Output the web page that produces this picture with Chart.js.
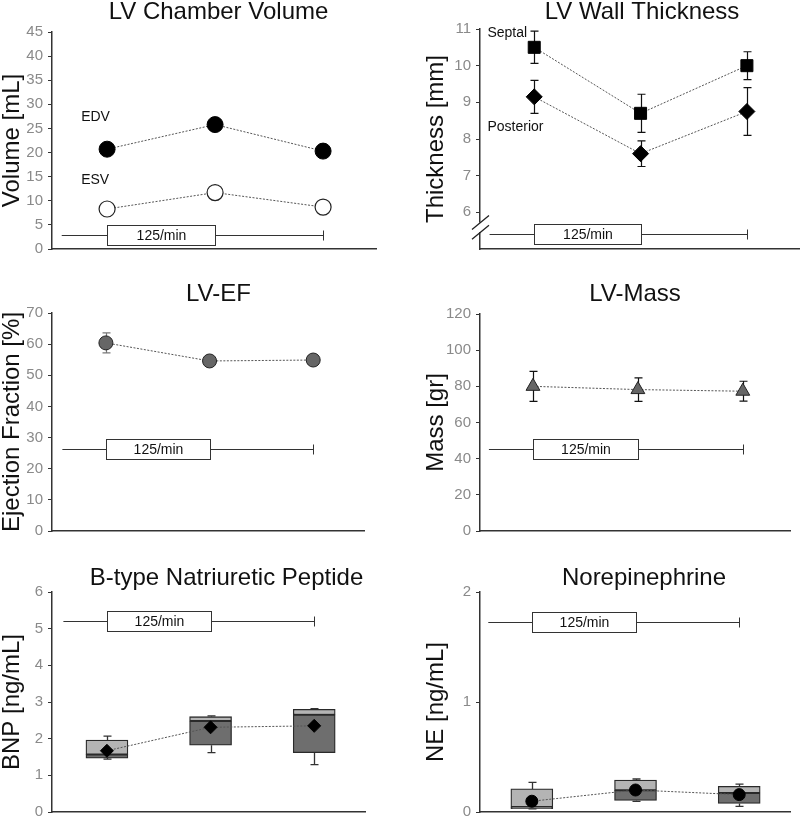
<!DOCTYPE html>
<html>
<head>
<meta charset="utf-8">
<script src="https://cdn.jsdelivr.net/npm/chart.js@4.4.1/dist/chart.umd.min.js"></script>
<style>
  body { margin: 0; background: #fff; }
  #wrap { position: relative; width: 800px; height: 822px; overflow: hidden; }
  #wrap canvas { position: absolute; }
</style>
</head>
<body>
<div id="wrap">
  <canvas id="c1" width="437" height="263" style="left:0px;top:0px"></canvas>
  <canvas id="c2" width="484" height="263" style="left:400px;top:0px"></canvas>
  <canvas id="c3" width="437" height="263" style="left:0px;top:282px"></canvas>
  <canvas id="c4" width="470" height="263" style="left:400px;top:282px"></canvas>
  <canvas id="c5" width="453" height="260" style="left:0px;top:566px"></canvas>
  <canvas id="c6" width="488" height="260" style="left:400px;top:566px"></canvas>
</div>
<script>
// time points (baseline, pacing, recovery)
const timepoints = [1, 2, 3];

// LV chamber volume [mL]
const edv = [20.7, 25.8, 20.3];
const esv = [8.3, 11.7, 8.7];

// LV wall thickness [mm]
const septal = [10.5, 8.7, 10.0];
const septalErr = [0.44, 0.52, 0.38];
const posterior = [9.15, 7.6, 8.75];
const posteriorErr = [0.45, 0.35, 0.65];

// LV-EF [%]
const ef = [60.4, 54.6, 54.9];
const efErr = [3.2, 1.0, 1.0];

// LV mass [gr]
const mass = [80.0, 78.2, 77.3];
const massErr = [8.3, 6.5, 5.5];

// BNP [ng/mL] box plots
const bnpMin = [1.44, 1.62, 1.29];
const bnpQ1 = [1.47, 1.82, 1.62];
const bnpMedian = [1.57, 2.48, 2.65];
const bnpQ3 = [1.96, 2.60, 2.80];
const bnpMax = [2.07, 2.62, 2.82];
const bnpMean = [1.67, 2.31, 2.35];

// NE [ng/mL] box plots
const neMin = [0.028, 0.096, 0.051];
const neQ1 = [0.03, 0.105, 0.078];
const neMedian = [0.045, 0.197, 0.173];
const neQ3 = [0.21, 0.29, 0.233];
const neMax = [0.27, 0.30, 0.253];
const neMean = [0.098, 0.20, 0.158];

// pacing period marker
const rateLabel = '125/min';
const rateStart = 0.58;
const rateBox = [1, 2];
const rateEnd = 3;

Chart.defaults.font.family = '"Liberation Sans", Arial, Helvetica, sans-serif';
Chart.defaults.animation = false;

const FONT = '"Liberation Sans", Arial, Helvetica, sans-serif';

function pts(vals) {
    return timepoints.map((x, i) => ({ x: x, y: vals[i] }));
}

function ranges(lo, hi) {
    return timepoints.map((x, i) => ({ x: x, y: [lo[i], hi[i]] }));
}

// extra drawing: error bars, whiskers, rate marker, text labels, axis break
function extrasPlugin(ex) {
    return {
        id: 'extras',
        beforeDatasetsDraw(chart) {
            const ctx = chart.ctx;
            const xs = chart.scales.x;
            const ys = chart.scales.y;
            ctx.save();

            (ex.errors || []).forEach(eb => {
                ctx.strokeStyle = eb.color;
                ctx.lineWidth = 1.2;
                eb.values.forEach((v, i) => {
                    const px = Math.round(xs.getPixelForValue(timepoints[i])) + 0.5;
                    const top = ys.getPixelForValue(v + eb.err[i]);
                    const bot = ys.getPixelForValue(v - eb.err[i]);
                    ctx.beginPath();
                    ctx.moveTo(px, top); ctx.lineTo(px, bot);
                    ctx.moveTo(px - 4, top); ctx.lineTo(px + 4, top);
                    ctx.moveTo(px - 4, bot); ctx.lineTo(px + 4, bot);
                    ctx.stroke();
                });
            });

            if (ex.whiskers) {
                const w = ex.whiskers;
                ctx.strokeStyle = '#333';
                ctx.lineWidth = 1.3;
                timepoints.forEach((x, i) => {
                    const px = Math.round(xs.getPixelForValue(x)) + 0.5;
                    const pMax = ys.getPixelForValue(w.max[i]);
                    const pMin = ys.getPixelForValue(w.min[i]);
                    ctx.beginPath();
                    ctx.moveTo(px, ys.getPixelForValue(w.q3[i])); ctx.lineTo(px, pMax);
                    ctx.moveTo(px - 4, pMax); ctx.lineTo(px + 4, pMax);
                    ctx.moveTo(px, ys.getPixelForValue(w.q1[i])); ctx.lineTo(px, pMin);
                    ctx.moveTo(px - 4, pMin); ctx.lineTo(px + 4, pMin);
                    ctx.stroke();
                });
            }

            if (ex.rateY !== undefined) {
                const y = Math.round(ys.getPixelForValue(ex.rateY)) + 0.5;
                const x0 = xs.getPixelForValue(rateStart);
                const xe = Math.round(xs.getPixelForValue(rateEnd)) + 0.5;
                const b0 = Math.round(xs.getPixelForValue(rateBox[0])) + 0.5;
                const b1 = Math.round(xs.getPixelForValue(rateBox[1])) + 0.5;
                ctx.strokeStyle = '#333';
                ctx.lineWidth = 1;
                ctx.beginPath();
                ctx.moveTo(x0, y); ctx.lineTo(xe, y);
                ctx.moveTo(xe, y - 5); ctx.lineTo(xe, y + 5);
                ctx.stroke();
                ctx.fillStyle = '#fff';
                ctx.fillRect(b0, y - 10, b1 - b0, 20);
                ctx.strokeRect(b0, y - 10, b1 - b0, 20);
                ctx.fillStyle = '#111';
                ctx.font = '14px ' + FONT;
                ctx.textAlign = 'center';
                ctx.textBaseline = 'middle';
                ctx.fillText(rateLabel, (b0 + b1) / 2, y + 1);
            }
            ctx.restore();
        },
        afterDraw(chart) {
            const ctx = chart.ctx;
            const xs = chart.scales.x;
            const ys = chart.scales.y;
            ctx.save();
            (ex.labels || []).forEach(l => {
                ctx.fillStyle = '#111';
                ctx.font = '14px ' + FONT;
                ctx.textAlign = 'left';
                ctx.textBaseline = 'middle';
                ctx.fillText(l.text, xs.getPixelForValue(l.x), ys.getPixelForValue(l.y));
            });
            if (ex.breakAt) {
                const ax = chart.chartArea.left;
                const p1 = ys.getPixelForValue(ex.breakAt[0]);
                const p2 = ys.getPixelForValue(ex.breakAt[1]);
                ctx.fillStyle = '#fff';
                ctx.fillRect(ax - 2, p1, 4, p2 - p1);
                ctx.strokeStyle = '#222';
                ctx.lineWidth = 1.3;
                ctx.beginPath();
                [p1, p2].forEach(p => {
                    ctx.moveTo(ax - 8, p + 7);
                    ctx.lineTo(ax + 9, p - 7);
                });
                ctx.stroke();
            }
            ctx.restore();
        }
    };
}

function makePanel(id, p) {
    return new Chart(document.getElementById(id), {
        type: p.type || 'line',
        data: { datasets: p.datasets },
        options: {
            responsive: false,
            layout: { padding: 0 },
            plugins: {
                legend: { display: false },
                tooltip: { enabled: false },
                title: {
                    display: true,
                    text: p.title,
                    color: '#111',
                    fullSize: true,
                    font: { size: 24, weight: 'normal', lineHeight: 1 },
                    padding: { top: 0, bottom: p.padB - 1 }
                }
            },
            scales: {
                x: {
                    type: 'linear',
                    min: p.xMin,
                    max: p.xMax,
                    offset: false,
                    grid: { display: false },
                    ticks: { display: false },
                    border: { display: true, color: '#333', width: 1.5 },
                    afterFit: s => { s.height = 10; }
                },
                y: {
                    type: 'linear',
                    position: 'left',
                    min: p.yMin,
                    max: p.yMax,
                    ticks: {
                        stepSize: p.step,
                        autoSkip: false,
                        color: '#8a8a8a',
                        font: { size: 15 },
                        padding: 5,
                        callback: p.tickCb || (v => v)
                    },
                    grid: {
                        display: true,
                        drawOnChartArea: false,
                        drawTicks: true,
                        tickLength: 4,
                        tickColor: '#333',
                        color: '#333'
                    },
                    border: { display: true, color: '#333', width: 1.5 },
                    title: {
                        display: true,
                        text: p.yTitle,
                        color: '#111',
                        font: { size: 24, lineHeight: 1 },
                        padding: { top: p.axisPad, bottom: 0 }
                    },
                    afterFit: s => { s.width = p.ya; }
                },
                y2: {
                    type: 'linear',
                    position: 'right',
                    display: true,
                    grid: { display: false },
                    border: { display: false },
                    ticks: { display: false },
                    afterFit: s => { s.width = p.rw; }
                }
            }
        },
        plugins: [extrasPlugin(p.extras || {})]
    });
}

const dotted = { borderColor: '#555', borderWidth: 1, borderDash: [2, 1.5], showLine: true };

// LV Chamber Volume
makePanel('c1', {
    title: 'LV Chamber Volume', yTitle: 'Volume [mL]',
    xMin: 0.49, xMax: 3.49, yMin: 0, yMax: 45, step: 5,
    ya: 52, rw: 61, padB: 9, axisPad: 0,
    datasets: [
        Object.assign({ data: pts(edv), pointRadius: 8, pointBackgroundColor: '#000', pointBorderColor: '#000', pointBorderWidth: 1 }, dotted),
        Object.assign({ data: pts(esv), pointRadius: 8, pointBackgroundColor: '#fff', pointBorderColor: '#222', pointBorderWidth: 1.2 }, dotted)
    ],
    extras: {
        rateY: 3.0,
        labels: [{ text: 'EDV', x: 0.76, y: 27.4 }, { text: 'ESV', x: 0.76, y: 14.3 }]
    }
});

// LV Wall Thickness
makePanel('c2', {
    title: 'LV Wall Thickness', yTitle: 'Thickness [mm]',
    xMin: 0.49, xMax: 3.49, yMin: 5, yMax: 11, step: 1,
    tickCb: v => (v === 5 ? null : v),
    ya: 80, rw: 85, padB: 6, axisPad: 24,
    datasets: [
        Object.assign({ data: pts(septal), pointStyle: 'rect', pointRadius: 8.5, pointBackgroundColor: '#000', pointBorderColor: '#000', pointBorderWidth: 1 }, dotted),
        Object.assign({ data: pts(posterior), pointStyle: 'rectRot', pointRadius: 8, pointBackgroundColor: '#000', pointBorderColor: '#000', pointBorderWidth: 1 }, dotted)
    ],
    extras: {
        rateY: 5.4,
        breakAt: [5.72, 5.46],
        errors: [
            { values: septal, err: septalErr, color: '#111' },
            { values: posterior, err: posteriorErr, color: '#111' }
        ],
        labels: [{ text: 'Septal', x: 0.56, y: 10.89 }, { text: 'Posterior', x: 0.56, y: 8.33 }]
    }
});

// LV-EF
makePanel('c3', {
    title: 'LV-EF', yTitle: 'Ejection Fraction [%]',
    xMin: 0.48, xMax: 3.49, yMin: 0, yMax: 70, step: 10,
    ya: 52, rw: 73, padB: 8, axisPad: 0,
    datasets: [
        Object.assign({ data: pts(ef), pointRadius: 7, pointBackgroundColor: '#666', pointBorderColor: '#222', pointBorderWidth: 1 }, dotted)
    ],
    extras: {
        rateY: 26.3,
        errors: [{ values: ef, err: efErr, color: '#777' }]
    }
});

// LV-Mass
makePanel('c4', {
    title: 'LV-Mass', yTitle: 'Mass [gr]',
    xMin: 0.495, xMax: 3.45, yMin: 0, yMax: 120, step: 20,
    ya: 80, rw: 80, padB: 9, axisPad: 24,
    datasets: [
        Object.assign({ data: pts(mass), pointStyle: 'triangle', pointRadius: 8, pointBackgroundColor: '#666', pointBorderColor: '#222', pointBorderWidth: 1 }, dotted)
    ],
    extras: {
        rateY: 45.4,
        errors: [{ values: mass, err: massErr, color: '#111' }]
    }
});

function boxDatasets(q1, med, q3, mean, meanStyle) {
    return [
        Object.assign({ type: 'line', order: 0, data: pts(mean), pointStyle: meanStyle, pointRadius: meanStyle === 'rectRot' ? 6.5 : 6, pointBackgroundColor: '#000', pointBorderColor: '#000', pointBorderWidth: 1 }, dotted),
        { type: 'bar', order: 1, grouped: false, data: ranges(q1, med), backgroundColor: '#6e6e6e', borderColor: '#2a2a2a', borderWidth: 1.3, borderSkipped: false, barThickness: 42 },
        { type: 'bar', order: 1, grouped: false, data: ranges(med, q3), backgroundColor: '#b4b4b4', borderColor: '#2a2a2a', borderWidth: 1.3, borderSkipped: false, barThickness: 42 }
    ];
}

// B-type Natriuretic Peptide
makePanel('c5', {
    type: 'bar',
    title: 'B-type Natriuretic Peptide', yTitle: 'BNP [ng/mL]',
    xMin: 0.47, xMax: 3.49, yMin: 0, yMax: 6, step: 1,
    ya: 52, rw: 88, padB: 3, axisPad: 0,
    datasets: boxDatasets(bnpQ1, bnpMedian, bnpQ3, bnpMean, 'rectRot'),
    extras: {
        rateY: 5.2,
        whiskers: { min: bnpMin, q1: bnpQ1, q3: bnpQ3, max: bnpMax }
    }
});

// Norepinephrine
makePanel('c6', {
    type: 'bar',
    title: 'Norepinephrine', yTitle: 'NE [ng/mL]',
    xMin: 0.50, xMax: 3.49, yMin: 0, yMax: 2, step: 1,
    ya: 80, rw: 98, padB: 3, axisPad: 24,
    datasets: boxDatasets(neQ1, neMedian, neQ3, neMean, 'circle'),
    extras: {
        rateY: 1.73,
        whiskers: { min: neMin, q1: neQ1, q3: neQ3, max: neMax }
    }
});
</script>
</body>
</html>
